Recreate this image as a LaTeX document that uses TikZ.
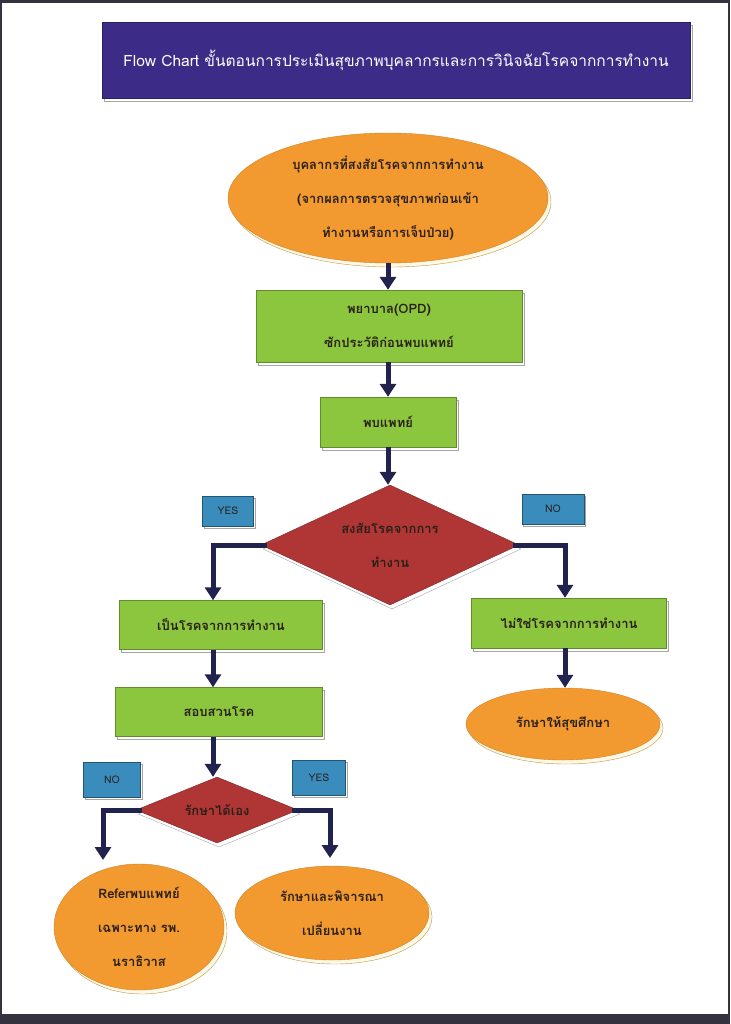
\documentclass[tikz,border=0pt]{standalone}
\usepackage{fontspec}
\newfontfamily\thai[Script=Thai]{Loma}
\usetikzlibrary{shapes.geometric,arrows.meta,shadows}
\definecolor{framec}{HTML}{35323F}
\definecolor{titlec}{HTML}{3C2C88}
\definecolor{orangec}{HTML}{F29A30}
\definecolor{greenc}{HTML}{8CC63E}
\definecolor{redc}{HTML}{B03636}
\definecolor{bluec}{HTML}{3A8CBC}
\definecolor{arrowc}{HTML}{22224E}
\definecolor{textc}{HTML}{2A2018}
\definecolor{shadc}{HTML}{FFF8E4}
\definecolor{shadl}{HTML}{B89A50}
\tikzset{
  thaitext/.style={font=\thai\bfseries\fontsize{13}{34}\selectfont, text=textc, align=center},
  ell/.style={ellipse, fill=orangec, draw=orangec!85!black, line width=0.4pt, inner sep=0pt,
    drop shadow={shadow xshift=3pt, shadow yshift=-4pt, fill=shadc, draw=shadl, opacity=1}, thaitext},
  gbox/.style={rectangle, fill=greenc, draw=greenc!70!black, line width=0.4pt, inner sep=0pt,
    drop shadow={shadow xshift=2pt, shadow yshift=-3pt, fill=white, draw=gray!70, opacity=1}, thaitext},
  dia/.style={diamond, fill=redc, draw=redc!70!black, line width=0.4pt, inner sep=0pt,
    drop shadow={shadow xshift=2pt, shadow yshift=-4pt, fill=white, draw=gray!70, opacity=1}, thaitext},
  lab/.style={rectangle, fill=bluec, draw=bluec!60!black, line width=0.4pt, inner sep=0pt,
    drop shadow={shadow xshift=1.5pt, shadow yshift=-2pt, fill=white, draw=gray!70, opacity=1},
    font=\thai\fontsize{10.5}{12}\selectfont, text=textc},
  arr/.style={draw=arrowc, line width=5pt, -{Triangle[width=16pt,length=13pt]}},
}
\begin{document}
\begin{tikzpicture}[x=1pt,y=-1pt]
% page
\fill[white] (0,0) rectangle (730,1024);
\useasboundingbox (0,0) rectangle (730,1024);
\fill[framec] (0,0) rectangle (730,3);
\fill[framec] (0,1014) rectangle (730,1024);
\fill[framec] (0,0) rectangle (2,1024);
\fill[framec] (728,0) rectangle (730,1024);
% title
\node[rectangle, fill=titlec, draw=titlec!70!black, minimum width=588pt, minimum height=76pt,
  drop shadow={shadow xshift=2pt, shadow yshift=-3pt, fill=white, draw=gray!70, opacity=1},
  text=white, font=\thai\fontsize{15.5}{18}\selectfont] (title) at (396,60)
  {Flow Chart ขั้นตอนการประเมินสุขภาพบุคลากรและการวินิจฉัยโรคจากการทำงาน};
% nodes
\node[ell, minimum width=320pt, minimum height=130pt] (e1) at (388,198)
  {บุคลากรที่สงสัยโรคจากการทำงาน\\(จากผลการตรวจสุขภาพก่อนเข้า\\ทำงานหรือการเจ็บป่วย)};
\node[gbox, minimum width=266pt, minimum height=72pt] (b2) at (389,326)
  {พยาบาล(OPD)\\ซักประวัติก่อนพบแพทย์};
\node[gbox, minimum width=136pt, minimum height=50pt] (b3) at (388,422) {พบแพทย์};
\node[dia, shape aspect=2.15, minimum width=258pt, minimum height=120pt] (d1) at (390,545)
  {สงสัยโรคจากการ\\ทำงาน};
\node[lab, minimum width=51pt, minimum height=30pt] (yes1) at (228,511) {YES};
\node[lab, minimum width=62pt, minimum height=30pt] (no1) at (553,509) {NO};
\node[gbox, minimum width=203pt, minimum height=49pt] (b4) at (221,625) {เป็นโรคจากการทำงาน};
\node[gbox, minimum width=195pt, minimum height=50pt] (b5) at (569,623) {ไม่ใช่โรคจากการทำงาน};
\node[gbox, minimum width=207pt, minimum height=49pt] (b6) at (219,712) {สอบสวนโรค};
\node[ell, minimum width=194pt, minimum height=72pt] (e2) at (563,724) {รักษาให้สุขศึกษา};
\node[dia, shape aspect=2.45, minimum width=162pt, minimum height=66pt] (d2) at (217,810) {รักษาได้เอง};
\node[lab, minimum width=57pt, minimum height=35pt] (no2) at (112,780) {NO};
\node[lab, minimum width=53pt, minimum height=35pt] (yes2) at (319,778) {YES};
\node[ell, minimum width=170pt, minimum height=126pt] (e3) at (139,927)
  {Referพบแพทย์\\เฉพาะทาง รพ.\\นราธิวาส};
\node[ell, minimum width=194pt, minimum height=94pt] (e4) at (332,913)
  {รักษาและพิจารณา\\เปลี่ยนงาน};
\coordinate (n2end) at (103,860);
\coordinate (y2end) at (330,858);
% connectors
\draw[arr] (e1.south) -- (b2.north -| e1.south);
\draw[arr] (b2.south -| b3.north) -- (b3.north);
\draw[arr] (b3.south) -- (d1.north -| b3.south);
\draw[arr] ([xshift=6pt]d1.west) -| ([xshift=-8pt]b4.north);
\draw[arr] ([xshift=-6pt]d1.east) -| ([xshift=-4pt]b5.north);
\draw[arr] ([xshift=-8pt]b4.south) -- ([xshift=-6pt]b6.north);
\draw[arr] ([xshift=-4pt]b5.south) -- ([xshift=-4pt]b5.south |- e2.north);
\draw[arr] ([xshift=-6pt]b6.south) -- ([xshift=-6pt]b6.south |- d2.north);
\draw[arr] ([xshift=6pt]d2.west) -| (n2end);
\draw[arr] ([xshift=-6pt]d2.east) -| (y2end);
\end{tikzpicture}
\end{document}
